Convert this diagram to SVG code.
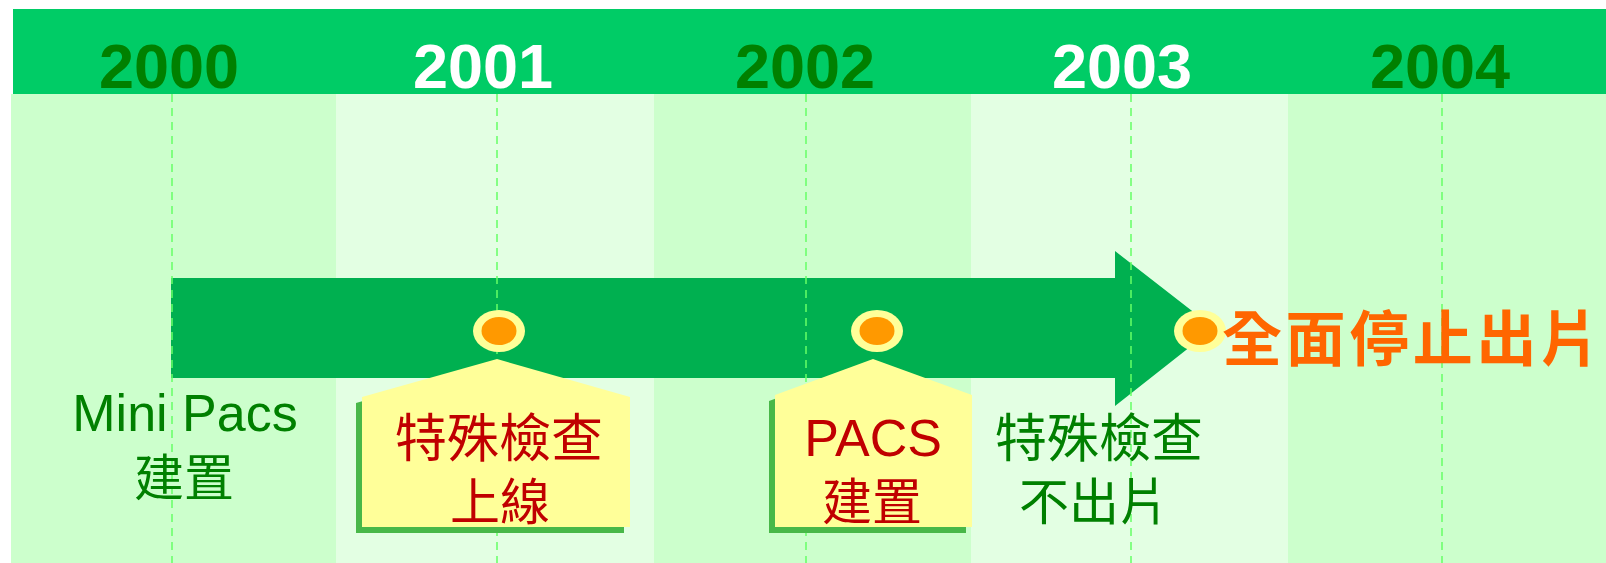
<svg xmlns="http://www.w3.org/2000/svg" width="1606" height="563" viewBox="0 0 1606 563">
  <style>
    .year { font-family: "Liberation Sans", Arial, sans-serif; font-weight: bold; font-size: 63px; text-anchor: middle; }
    .yg { fill: #008000; }
    .yw { fill: #FFFFFF; }
    .lat { font-family: "Liberation Sans", Arial, sans-serif; font-size: 52px; text-anchor: middle; }
    .cjk { font-family: "Liberation Sans", "Noto Sans CJK TC", sans-serif; font-size: 50px; text-anchor: middle; }
    .big { font-size: 52px; }
    .green { fill: #008000; }
    .red { fill: #C00000; }
    .orange { fill: #FF6600; font-size: 60px; font-weight: bold; text-anchor: start; }
    .grid { stroke: #66FF66; stroke-width: 1.5; stroke-dasharray: 8 6; fill: none; }
    .dotOuter { fill: #FFFF99; }
    .dotInner { fill: #FF9900; }
    .callout { fill: #FFFF99; }
    .shadow { fill: #48B848; }
  </style>
  <defs>
    <g id="dot">
      <ellipse class="dotOuter" cx="0" cy="0" rx="26" ry="21"/>
      <ellipse class="dotInner" cx="0" cy="0" rx="17.5" ry="14"/>
    </g>
  </defs>

  <g id="background">
    <rect x="11" y="94" width="325" height="469" fill="#CCFFCC"/>
    <rect x="336" y="94" width="318" height="469" fill="#E3FFE3"/>
    <rect x="654" y="94" width="317" height="469" fill="#CCFFCC"/>
    <rect x="971" y="94" width="317" height="469" fill="#E3FFE3"/>
    <rect x="1288" y="94" width="318" height="469" fill="#CCFFCC"/>
    <rect x="13" y="9" width="1593" height="85" fill="#00CC66"/>
  </g>

  <g id="years">
    <text class="year yg" x="169" y="88">2000</text>
    <text class="year yw" x="483" y="88">2001</text>
    <text class="year yg" x="805" y="88">2002</text>
    <text class="year yw" x="1122" y="88">2003</text>
    <text class="year yg" x="1440" y="88">2004</text>
  </g>

  <g id="connectors">
    <polygon id="timeline-arrow" points="171,278 1115,278 1115,251 1214,328 1115,406 1115,378 171,378" fill="#00B050"/>
    <g id="gridlines">
      <line class="grid" x1="172" y1="94" x2="172" y2="563"/>
      <line class="grid" x1="497" y1="94" x2="497" y2="563"/>
      <line class="grid" x1="806" y1="94" x2="806" y2="563"/>
      <line class="grid" x1="1131" y1="94" x2="1131" y2="563"/>
      <line class="grid" x1="1442" y1="94" x2="1442" y2="563"/>
    </g>
  </g>

  <g id="node-2000">
    <text class="lat green" x="185" y="431">Mini Pacs</text>
    <text class="cjk green" x="184" y="496">建置</text>
  </g>

  <g id="node-2001">
    <use href="#dot" x="499" y="331"/>
    <polygon class="shadow" points="356,403 490,365 624,403 624,533 356,533"/>
    <polygon class="callout" points="362,397 497,359 630,397 630,527 362,527"/>
    <text class="cjk big red" x="499" y="457">特殊檢查</text>
    <text class="cjk red" x="500" y="520">上線</text>
  </g>

  <g id="node-2002">
    <use href="#dot" x="877" y="331"/>
    <polygon class="shadow" points="769,401 867,365 966,401 966,533 769,533"/>
    <polygon class="callout" points="775,395 873,359 972,395 972,527 775,527"/>
    <text class="lat red" x="873" y="456">PACS</text>
    <text class="cjk red" x="872" y="520">建置</text>
  </g>

  <g id="node-2003">
    <text class="cjk big green" x="1099" y="457">特殊檢查</text>
    <text class="cjk green" x="1094" y="520">不出片</text>
  </g>

  <g id="node-end">
    <use href="#dot" x="1200" y="331"/>
    <text class="cjk orange" x="1222" y="361" textLength="378" lengthAdjust="spacing">全面停止出片</text>
  </g>
</svg>
